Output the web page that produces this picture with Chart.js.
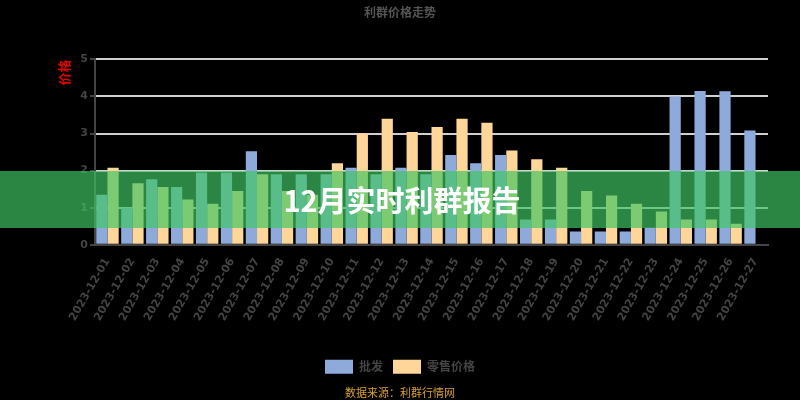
<!DOCTYPE html>
<html lang="zh-CN">
<head>
<meta charset="utf-8">
<title>12月实时利群报告</title>
<script src="https://cdn.jsdelivr.net/npm/chart.js@4.4.1/dist/chart.umd.min.js"></script>
<style>
    html, body { margin: 0; padding: 0; background: #000; }
    #wrap { position: relative; width: 800px; height: 400px; background: #000; }
    #banner {
        position: absolute; left: 0; top: 171px; width: 800px; height: 57px;
        background: rgba(62, 198, 98, 0.68);
        color: #fff; font: bold 29px "Noto Sans CJK SC", sans-serif;
        line-height: 57px; text-align: center; text-indent: 4px;
    }
</style>
</head>
<body>
<div id="wrap">
    <canvas id="chart" width="800" height="400"></canvas>
    <div id="banner">12月实时利群报告</div>
</div>
<script>
// 日期
const dates = [
    '2023-12-01', '2023-12-02', '2023-12-03', '2023-12-04', '2023-12-05', '2023-12-06',
    '2023-12-07', '2023-12-08', '2023-12-09', '2023-12-10', '2023-12-11', '2023-12-12',
    '2023-12-13', '2023-12-14', '2023-12-15', '2023-12-16', '2023-12-17', '2023-12-18',
    '2023-12-19', '2023-12-20', '2023-12-21', '2023-12-22', '2023-12-23', '2023-12-24',
    '2023-12-25', '2023-12-26', '2023-12-27'
];

// 批发
const pifa = [1.35, 1.0, 1.77, 1.56, 1.95, 1.95, 2.52, 1.9, 1.9, 1.9, 2.08, 1.9, 2.08, 1.9,
    2.42, 2.2, 2.42, 0.68, 0.68, 0.36, 0.36, 0.36, 0.46, 4.0, 4.15, 4.14, 3.08];

// 零售价格
const lingshou = [2.08, 1.66, 1.56, 1.22, 1.11, 1.45, 1.9, 1.45, 1.35, 2.2, 3.0, 3.4, 3.04, 3.18,
    3.4, 3.29, 2.54, 2.31, 2.08, 1.45, 1.33, 1.11, 0.9, 0.68, 0.68, 0.57, 0];

const yTicks = [0, 1, 2, 3, 4, 5];

const colors = {
    blue: '#8eaadb',
    orange: '#ffd699',
    grid: '#cfcfcf',
    axis: '#444444',
    text: '#444444'
};

const ctx = document.getElementById('chart').getContext('2d');
new Chart(ctx, {
    type: 'bar',
    data: {
        labels: dates,
        datasets: [
            {
                label: '批发',
                data: pifa,
                backgroundColor: colors.blue,
                borderWidth: 0,
                categoryPercentage: 0.9,
                barPercentage: 1.0
            },
            {
                label: '零售价格',
                data: lingshou,
                backgroundColor: colors.orange,
                borderWidth: 0,
                categoryPercentage: 0.9,
                barPercentage: 1.0
            }
        ]
    },
    options: {
        responsive: false,
        animation: false,
        layout: {
            padding: { left: 32, right: 32, top: 0, bottom: 0 }
        },
        plugins: {
            title: {
                display: true,
                text: '利群价格走势',
                color: '#555',
                font: { family: 'Noto Sans CJK SC', size: 12, weight: 'bold' },
                padding: { top: 5, bottom: 40 }
            },
            subtitle: {
                display: true,
                position: 'bottom',
                text: '数据来源：利群行情网',
                color: '#d9a030',
                font: { family: 'Noto Sans CJK SC', size: 11 },
                padding: { top: 2, bottom: 1 }
            },
            legend: {
                position: 'bottom',
                labels: {
                    boxWidth: 28,
                    boxHeight: 14,
                    padding: 10,
                    color: colors.text,
                    font: { family: 'Noto Sans CJK SC', size: 12, weight: 'bold' }
                }
            },
            tooltip: { enabled: false }
        },
        scales: {
            x: {
                grid: { display: false },
                border: { color: colors.axis, width: 2 },
                ticks: {
                    color: colors.text,
                    font: { family: 'DejaVu Sans', size: 11, weight: 'bold' },
                    minRotation: 60,
                    maxRotation: 60,
                    autoSkip: false
                },
                afterFit: function(scale) {
                    scale.height = 105;
                }
            },
            y: {
                min: 0,
                max: 5,
                afterBuildTicks: function(scale) {
                    scale.ticks = yTicks.map(v => ({ value: v }));
                },
                grid: {
                    color: colors.grid,
                    lineWidth: 2,
                    tickColor: colors.axis,
                    tickLength: 5
                },
                border: { color: colors.axis, width: 2 },
                ticks: {
                    color: colors.text,
                    font: { family: 'DejaVu Sans', size: 11, weight: 'bold' },
                    padding: 2
                },
                title: {
                    display: true,
                    text: '价格',
                    align: 'end',
                    color: '#e00000',
                    font: { family: 'Noto Sans CJK SC', size: 13, weight: 'bold' },
                    padding: { top: 24, bottom: 4 }
                },
                afterFit: function(scale) {
                    scale.width = 63;
                }
            }
        }
    }
});
</script>
</body>
</html>
